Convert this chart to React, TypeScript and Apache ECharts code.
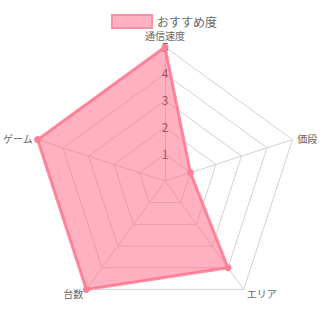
import React, { useEffect, useRef } from "react";
import * as echarts from "echarts";

// Reference order (clockwise from top)
const indicatorNames = ["通信速度", "価段", "エリア", "台数", "ゲーム"];
const indicatorMax = 5;
const seriesName = "おすすめ度";
const seriesValues = [5, 1, 4, 5, 5];

const FONT = "'Noto Sans CJK JP', 'Noto Sans', sans-serif";

// ECharts radar runs counter-clockwise; map to clockwise order
const ccwIndex = indicatorNames.map((_, i) => (i === 0 ? 0 : indicatorNames.length - i));

export default function App() {
  const ref = useRef<HTMLDivElement>(null);
  useEffect(() => {
    if (!ref.current) return;
    const chart = echarts.init(ref.current, undefined, { renderer: "svg" });
    chart.setOption({
      animation: false,
      textStyle: { fontFamily: FONT },
      legend: {
        left: 106,
        top: 9,
        itemWidth: 40,
        itemHeight: 13,
        itemGap: 6,
        textStyle: { color: "#666", fontSize: 12, fontFamily: FONT },
        data: [
          {
            name: seriesName,
            icon: "rect",
            itemStyle: {
              color: "rgba(255,99,132,0.5)",
              borderColor: "#ff8fa3",
              borderWidth: 2,
            },
          },
        ],
      },
      radar: {
        center: [165, 181],
        radius: 134,
        startAngle: 90,
        splitNumber: 5,
        shape: "polygon",
        nameGap: 5,
        axisName: { color: "#666", fontSize: 10, fontFamily: FONT },
        splitArea: { show: false },
        splitLine: { lineStyle: { color: "#d2d2d2", width: 1 } },
        axisLine: { lineStyle: { color: "#d2d2d2", width: 1 } },
        axisTick: { show: false },
        axisLabel: {
          show: true,
          margin: 0,
          align: "center",
          verticalAlign: "bottom",
          padding: [0, 0, -5, 0],
          color: "#444",
          fontSize: 12,
          fontFamily: FONT,
          showMinLabel: false,
          showMaxLabel: true,
          hideOverlap: false,
        },
        indicator: ccwIndex.map((idx, i) =>
          i === 0
            ? { name: indicatorNames[idx], max: indicatorMax, min: 0 }
            : {
                name: indicatorNames[idx],
                max: indicatorMax,
                min: 0,
                axisLabel: { show: false },
              }
        ),
      },
      series: [
        {
          type: "radar",
          z: 3,
          symbol: "circle",
          symbolSize: 7,
          itemStyle: { color: "#ff7f97" },
          lineStyle: { color: "#ff8fa3", width: 3 },
          areaStyle: { color: "rgba(255,99,132,0.5)", opacity: 1 },
          data: [{ name: seriesName, value: ccwIndex.map((idx) => seriesValues[idx]) }],
        },
      ],
    });
    return () => chart.dispose();
  }, []);
  return (
    <div
      ref={ref}
      style={{ position: "absolute", left: 0, top: 0, width: 329, height: 329 }}
    />
  );
}
